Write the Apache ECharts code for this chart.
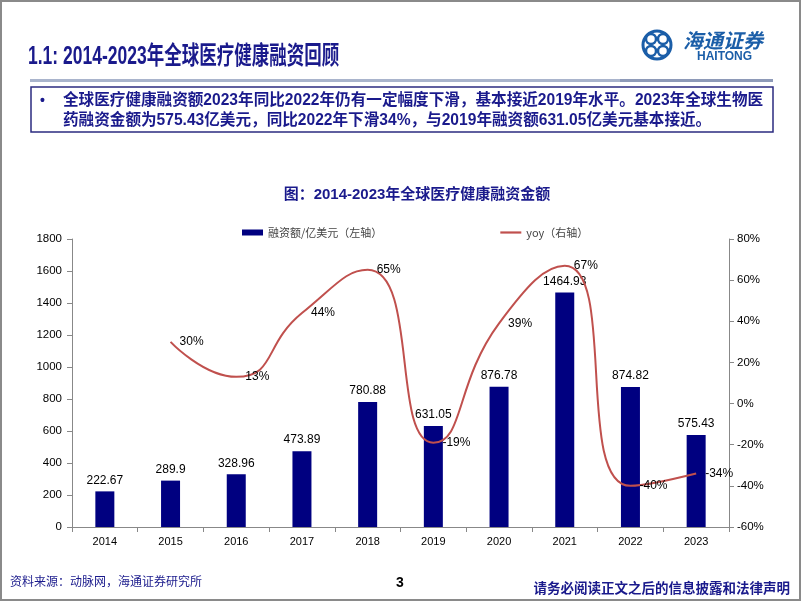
<!DOCTYPE html>
<html>
<head>
<meta charset="utf-8">
<script src="https://cdn.jsdelivr.net/npm/echarts@6/dist/echarts.min.js"></script>
<style>html,body{margin:0;padding:0;background:#fff}#c{width:802px;height:602px}</style>
</head>
<body>
<div id="c"></div>
<script>
const years = ['2014','2015','2016','2017','2018','2019','2020','2021','2022','2023'];
const amount = [222.67, 289.9, 328.96, 473.89, 780.88, 631.05, 876.78, 1464.93, 874.82, 575.43];
const yoy = ['-', 30, 13, 44, 65, -19, 39, 67, -40, -34];
const leftAxis = {min: 0, max: 1800, interval: 200};
const rightAxis = {min: -60, max: 80, interval: 20};
const barName = '融资额/亿美元（左轴）';
const lineName = 'yoy（右轴）';

const NAVY = '#1a1a8c';
const LAT = '"Liberation Sans", Arial, "Noto Sans CJK SC", sans-serif';
const CJK = '"Noto Sans CJK SC", "Liberation Sans", sans-serif';

const chart = echarts.init(document.getElementById('c'), null, {renderer: 'canvas'});
chart.setOption({
  animation: false,
  backgroundColor: '#fff',
  textStyle: {fontFamily: LAT},
  legend: {
    left: 237, top: 222,
    itemWidth: 21, itemHeight: 6, itemGap: 118,
    textStyle: {fontSize: 11, color: '#444', fontFamily: CJK},
    data: [{name: barName, icon: 'rect'},
           {name: lineName, icon: 'path://M0,0 L21,0 L21,2.2 L0,2.2 Z', symbolKeepAspect: true}]
  },
  grid: {left: 72, right: 73, top: 239, bottom: 75},
  xAxis: {
    type: 'category', data: years,
    axisLine: {lineStyle: {color: '#888', width: 1}},
    axisTick: {show: true, alignWithLabel: false, length: 5, lineStyle: {color: '#888'}},
    axisLabel: {color: '#000', fontSize: 11, margin: 9, fontFamily: LAT}
  },
  yAxis: [
    {type: 'value', min: leftAxis.min, max: leftAxis.max, interval: leftAxis.interval,
      splitLine: {show: false},
      axisLine: {show: true, lineStyle: {color: '#888'}},
      axisTick: {show: true, length: 5, lineStyle: {color: '#888'}},
      axisLabel: {color: '#000', fontSize: 11.5, margin: 10, fontFamily: LAT, formatter: v => String(v)}},
    {type: 'value', position: 'right', min: rightAxis.min, max: rightAxis.max, interval: rightAxis.interval,
      splitLine: {show: false},
      axisLine: {show: true, lineStyle: {color: '#888'}},
      axisTick: {show: true, length: 5, lineStyle: {color: '#888'}},
      axisLabel: {color: '#000', fontSize: 11.5, margin: 8, fontFamily: LAT, formatter: v => v + '%'}}
  ],
  series: [
    {name: barName, type: 'bar', data: amount, barWidth: 19, yAxisIndex: 0,
      itemStyle: {color: '#000080'},
      label: {show: true, position: 'top', distance: 5, color: '#000', fontSize: 12, fontFamily: LAT}},
    {name: lineName, type: 'line', data: yoy, yAxisIndex: 1, smooth: 0.55,
      symbol: 'circle', symbolSize: 0.1, showSymbol: true,
      lineStyle: {color: '#c0504d', width: 2}, itemStyle: {color: '#c0504d'},
      label: {show: true, position: 'right', distance: 9, color: '#000', fontSize: 12, fontFamily: LAT, formatter: p => p.value + '%'}}
  ],
  graphic: [
    {type: 'rect', shape: {x: 1, y: 1, width: 799, height: 599}, style: {fill: 'none', stroke: '#8a8a8a', lineWidth: 2}, silent: true},
    {type: 'text', x: 28, y: 45, scaleX: 0.7, style: {text: '1.1: 2014-2023年全球医疗健康融资回顾', fontSize: 25, fontWeight: 'bold', fontFamily: '"Liberation Sans", "Noto Sans CJK SC", sans-serif', fill: NAVY}},
    {type: 'rect', shape: {x: 30, y: 79, width: 743, height: 3}, style: {fill: '#a9b4cc'}},
    {type: 'rect', shape: {x: 620, y: 79, width: 153, height: 3}, style: {fill: '#8e9ab8'}},
    {type: 'rect', shape: {x: 31, y: 87, width: 742, height: 45}, style: {fill: '#fff', stroke: '#2b2b80', lineWidth: 1.5}},
    {type: 'text', x: 40, y: 94, style: {text: '•', fontSize: 14, fontWeight: 'bold', fill: NAVY, fontFamily: LAT}},
    {type: 'text', x: 63, y: 93, style: {text: '全球医疗健康融资额2023年同比2022年仍有一定幅度下滑，基本接近2019年水平。2023年全球生物医', fontSize: 15.6, fontWeight: 'bold', fill: NAVY, fontFamily: LAT}},
    {type: 'text', x: 63, y: 113, style: {text: '药融资金额为575.43亿美元，同比2022年下滑34%，与2019年融资额631.05亿美元基本接近。', fontSize: 15.6, fontWeight: 'bold', fill: NAVY, fontFamily: LAT}},
    {type: 'text', x: 417, y: 195, style: {text: '图：2014-2023年全球医疗健康融资金额', fontSize: 15, fontWeight: 'bold', fill: NAVY, fontFamily: LAT, align: 'center', verticalAlign: 'middle'}},
    // logo
    {type: 'circle', shape: {cx: 657, cy: 45, r: 14}, style: {fill: 'none', stroke: '#1b5ea8', lineWidth: 3}},
    {type: 'circle', shape: {cx: 651, cy: 39, r: 5}, style: {fill: 'none', stroke: '#1b5ea8', lineWidth: 2.5}},
    {type: 'circle', shape: {cx: 663, cy: 39, r: 5}, style: {fill: 'none', stroke: '#1b5ea8', lineWidth: 2.5}},
    {type: 'circle', shape: {cx: 651, cy: 51, r: 5}, style: {fill: 'none', stroke: '#1b5ea8', lineWidth: 2.5}},
    {type: 'circle', shape: {cx: 663, cy: 51, r: 5}, style: {fill: 'none', stroke: '#1b5ea8', lineWidth: 2.5}},
    {type: 'text', x: 683, y: 30, style: {text: '海通证券', fontSize: 20, fontStyle: 'italic', fontWeight: 'bold', fill: '#1b5ea8', fontFamily: CJK}},
    {type: 'text', x: 697, y: 51, style: {text: 'HAITONG', fontSize: 12, fontWeight: 'bold', fill: '#1b5ea8', fontFamily: LAT}},
    // footer
    {type: 'text', x: 10, y: 575, style: {text: '资料来源：动脉网，海通证券研究所', fontSize: 12, fill: NAVY, fontFamily: CJK}},
    {type: 'text', x: 400, y: 583, style: {text: '3', fontSize: 14, fontWeight: 'bold', fill: '#000', fontFamily: LAT, align: 'center', verticalAlign: 'middle'}},
    {type: 'text', x: 790, y: 588, style: {text: '请务必阅读正文之后的信息披露和法律声明', fontSize: 13.5, fontWeight: 'bold', fill: NAVY, fontFamily: CJK, align: 'right', verticalAlign: 'middle'}}
  ]
});
</script>
</body>
</html>
